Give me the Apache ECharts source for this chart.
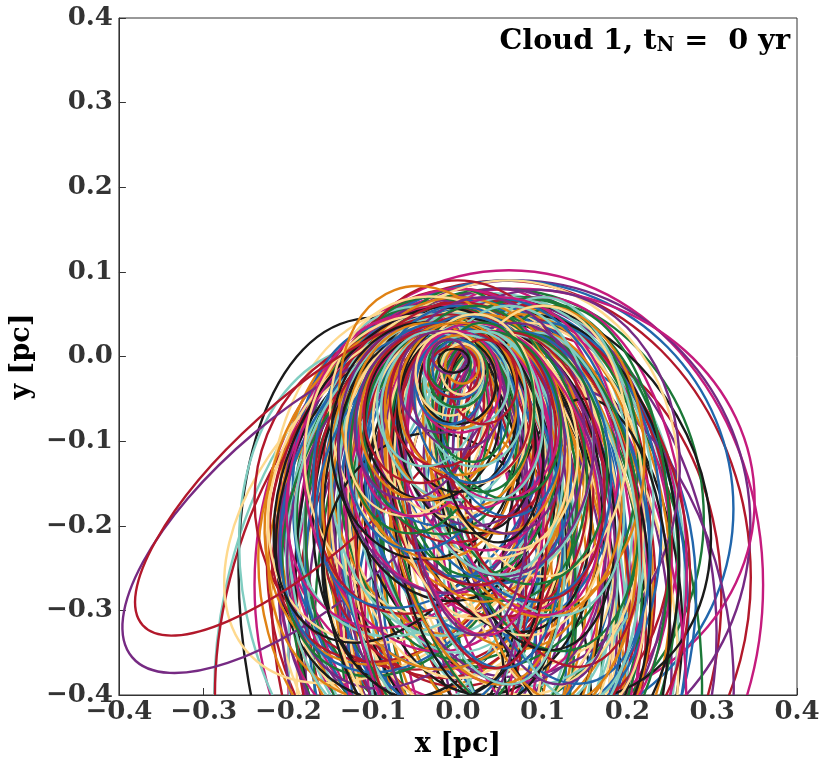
<!DOCTYPE html>
<html>
<head>
<meta charset="utf-8">
<script src="https://cdn.jsdelivr.net/npm/echarts@6/dist/echarts.min.js"></script>
<style>
  html, body { margin: 0; padding: 0; background: #fff; }
  #chart { width: 830px; height: 768px; }
</style>
</head>
<body>
<div id="chart"></div>
<script>
// axis ticks (pc)
const xTicks = [-0.4, -0.3, -0.2, -0.1, 0.0, 0.1, 0.2, 0.3, 0.4];
const yTicks = [-0.4, -0.3, -0.2, -0.1, 0.0, 0.1, 0.2, 0.3, 0.4];

// orbits: [centre x, centre y, half-width, half-height, tilt deg]
const redOrbits = [
  [-0.175, -0.14, 0.265, 0.09, 42],
  [-0.03, -0.30, 0.24, 0.38, -18],
  [0.06, -0.25, 0.285, 0.34, 5],
  [0.0, -0.15, 0.16, 0.24, 0],
  [-0.05, -0.17, 0.19, 0.20, 0],
  [0.05, -0.19, 0.20, 0.26, 10],
  [0.02, -0.12, 0.10, 0.15, 0],
  [-0.02, -0.05, 0.06, 0.08, 0],
  [0.10, -0.22, 0.17, 0.27, 10],
  [0.0, -0.28, 0.22, 0.36, 0],
  [0.03, -0.03, 0.04, 0.05, 0],
  [0.06, -0.30, 0.25, 0.33, -5],
  [-0.005, -0.018, 0.03, 0.03, 0],
  [0.01, -0.06, 0.075, 0.09, 10],
  [-0.01, -0.09, 0.10, 0.13, 5],
  [0.03, -0.13, 0.12, 0.18, 12],
  [-0.02, -0.16, 0.15, 0.22, 0],
  [0.06, -0.205, 0.13, 0.26, 15],
  [0.04, -0.23, 0.19, 0.30, 8],
  [0.02, -0.28, 0.20, 0.36, 5],
  [-0.06, -0.16, 0.15, 0.21, -25],
  [-0.03, -0.12, 0.13, 0.19, -20],
  [0.045, -0.08, 0.07, 0.11, 5],
  [0.08, -0.13, 0.09, 0.16, 10],
  [-0.04, -0.06, 0.07, 0.09, -10],
  [0.11, -0.17, 0.10, 0.20, 12],
  [0.02, -0.17, 0.08, 0.20, 8],
  [-0.02, -0.23, 0.10, 0.26, 3]
];
const purpleOrbits = [
  [-0.17, -0.175, 0.28, 0.11, 40],
  [0.07, -0.20, 0.275, 0.29, 0],
  [0.0, -0.35, 0.18, 0.38, 0],
  [0.03, -0.10, 0.12, 0.17, 0],
  [-0.02, -0.03, 0.05, 0.06, 0],
  [0.05, -0.22, 0.20, 0.30, 0],
  [0.15, -0.33, 0.17, 0.30, 10],
  [0.0, -0.20, 0.14, 0.26, 0],
  [-0.01, 0.0, 0.02, 0.02, 0],
  [0.08, -0.15, 0.18, 0.23, -10],
  [-0.06, -0.30, 0.15, 0.33, 5],
  [0.0, -0.04, 0.055, 0.07, 5],
  [0.02, -0.08, 0.09, 0.12, 0],
  [-0.03, -0.12, 0.11, 0.16, 8],
  [0.04, -0.17, 0.13, 0.22, 12],
  [0.02, -0.25, 0.16, 0.32, 10],
  [0.09, -0.27, 0.21, 0.34, 10],
  [-0.04, -0.22, 0.17, 0.27, -5],
  [0.03, -0.32, 0.22, 0.40, 5],
  [-0.05, -0.18, 0.14, 0.22, -20],
  [0.05, -0.09, 0.075, 0.12, 8],
  [0.06, -0.11, 0.10, 0.15, -5],
  [-0.05, -0.07, 0.07, 0.10, -12],
  [0.09, -0.18, 0.09, 0.21, 10],
  [0.01, -0.15, 0.07, 0.18, 5],
  [-0.01, -0.21, 0.09, 0.24, 0]
];
const tealOrbits = [
  [-0.01, -0.33, 0.27, 0.41, -12],
  [0.08, -0.30, 0.18, 0.37, 0],
  [0.0, -0.15, 0.12, 0.20, 0],
  [0.02, -0.05, 0.06, 0.08, 0],
  [-0.03, -0.22, 0.17, 0.28, 5],
  [0.05, -0.25, 0.15, 0.30, -10],
  [-0.005, -0.02, 0.035, 0.04, 0],
  [0.06, -0.10, 0.10, 0.16, 0],
  [-0.05, -0.28, 0.20, 0.30, 15],
  [0.10, -0.20, 0.12, 0.27, 0],
  [0.0, -0.35, 0.20, 0.40, 0],
  [0.01, -0.03, 0.05, 0.055, 0],
  [-0.01, -0.07, 0.08, 0.10, 8],
  [0.03, -0.11, 0.09, 0.15, 12],
  [-0.02, -0.14, 0.13, 0.19, 0],
  [0.04, -0.19, 0.14, 0.24, 15],
  [0.0, -0.24, 0.18, 0.30, 5],
  [0.07, -0.16, 0.16, 0.23, 5],
  [-0.06, -0.20, 0.14, 0.24, -8],
  [-0.04, -0.14, 0.14, 0.20, -25],
  [0.035, -0.07, 0.065, 0.10, 5],
  [0.09, -0.14, 0.10, 0.17, 15],
  [-0.035, -0.05, 0.06, 0.08, -8],
  [0.12, -0.19, 0.09, 0.22, 8],
  [0.03, -0.18, 0.09, 0.21, 10],
  [-0.03, -0.20, 0.11, 0.24, 5]
];
const yellowOrbits = [
  [0.0, -0.10, 0.14, 0.18, 30],
  [-0.06, -0.17, 0.26, 0.16, 45],
  [0.06, -0.14, 0.20, 0.23, 0],
  [0.0, -0.38, 0.19, 0.44, 0],
  [0.02, -0.05, 0.07, 0.10, 0],
  [0.0, -0.16, 0.13, 0.22, 0],
  [0.04, -0.24, 0.17, 0.30, -5],
  [-0.01, -0.02, 0.04, 0.05, 0],
  [0.08, -0.18, 0.14, 0.22, 0],
  [-0.04, -0.20, 0.12, 0.25, 0],
  [0.0, -0.30, 0.135, 0.38, 0],
  [0.10, -0.10, 0.10, 0.16, 0],
  [0.005, -0.015, 0.025, 0.03, 0],
  [-0.01, -0.08, 0.09, 0.11, 5],
  [0.03, -0.10, 0.11, 0.14, 12],
  [-0.03, -0.13, 0.15, 0.18, 10],
  [0.05, -0.20, 0.12, 0.26, 15],
  [0.02, -0.19, 0.17, 0.24, 5],
  [-0.02, -0.26, 0.20, 0.32, 10],
  [0.07, -0.28, 0.18, 0.34, 12],
  [-0.06, -0.15, 0.15, 0.20, -30],
  [-0.02, -0.18, 0.17, 0.25, -20],
  [0.05, -0.10, 0.08, 0.13, 10],
  [0.07, -0.15, 0.11, 0.18, 5],
  [-0.05, -0.08, 0.08, 0.11, -15],
  [0.10, -0.20, 0.11, 0.23, 15],
  [0.015, -0.14, 0.09, 0.17, 3],
  [-0.015, -0.24, 0.11, 0.28, 8]
];
const blackOrbits = [
  [0.085, -0.17, 0.20, 0.25, 30],
  [0.0, -0.30, 0.19, 0.34, 5],
  [-0.005, -0.005, 0.018, 0.014, 0],
  [0.0, -0.06, 0.07, 0.10, 0],
  [-0.02, -0.13, 0.12, 0.16, 10],
  [-0.03, -0.25, 0.13, 0.16, 0],
  [0.05, -0.25, 0.17, 0.30, 0],
  [0.15, -0.30, 0.10, 0.25, 0],
  [-0.05, -0.35, 0.20, 0.40, 10],
  [0.03, -0.18, 0.14, 0.22, 0],
  [0.0, -0.03, 0.045, 0.05, 0],
  [0.01, -0.09, 0.08, 0.12, 10],
  [-0.04, -0.10, 0.11, 0.14, 0],
  [0.04, -0.14, 0.11, 0.19, 15],
  [0.02, -0.21, 0.15, 0.27, 8],
  [0.06, -0.27, 0.20, 0.32, 10],
  [-0.02, -0.18, 0.15, 0.23, -5],
  [0.10, -0.22, 0.16, 0.27, 5],
  [-0.07, -0.14, 0.13, 0.21, -25],
  [-0.05, -0.19, 0.16, 0.22, -15],
  [0.04, -0.10, 0.06, 0.12, 5],
  [0.08, -0.16, 0.10, 0.19, 12],
  [-0.03, -0.07, 0.08, 0.10, -5],
  [0.12, -0.21, 0.10, 0.24, 10],
  [0.025, -0.19, 0.10, 0.22, 6],
  [-0.04, -0.21, 0.12, 0.25, 0]
];
const greenOrbits = [
  [0.05, -0.19, 0.24, 0.27, 0],
  [0.0, -0.28, 0.14, 0.36, 0],
  [0.02, -0.10, 0.10, 0.16, 0],
  [-0.01, -0.01, 0.025, 0.03, 0],
  [0.03, -0.06, 0.06, 0.10, 0],
  [0.08, -0.25, 0.18, 0.32, 0],
  [-0.03, -0.20, 0.15, 0.27, 0],
  [0.06, -0.15, 0.15, 0.22, -10],
  [0.0, -0.35, 0.17, 0.42, 0],
  [0.12, -0.22, 0.13, 0.28, 0],
  [0.02, -0.25, 0.20, 0.30, 5],
  [0.0, -0.02, 0.035, 0.04, 0],
  [0.01, -0.05, 0.05, 0.075, 10],
  [-0.02, -0.09, 0.09, 0.12, 0],
  [0.04, -0.12, 0.11, 0.17, 10],
  [0.0, -0.15, 0.14, 0.21, 5],
  [0.06, -0.21, 0.15, 0.27, 12],
  [-0.04, -0.24, 0.16, 0.30, 0],
  [0.10, -0.30, 0.18, 0.36, 10],
  [0.03, -0.18, 0.19, 0.25, -5],
  [-0.05, -0.17, 0.14, 0.22, -25],
  [0.05, -0.07, 0.07, 0.10, 12],
  [0.075, -0.12, 0.10, 0.15, 8],
  [-0.045, -0.09, 0.08, 0.12, -10],
  [0.10, -0.16, 0.11, 0.19, 10],
  [0.03, -0.20, 0.10, 0.23, 12],
  [-0.01, -0.20, 0.12, 0.24, -3]
];
const orangeOrbits = [
  [-0.01, -0.10, 0.12, 0.19, 20],
  [0.0, -0.20, 0.21, 0.26, 0],
  [0.05, -0.27, 0.18, 0.30, 0],
  [0.0, -0.05, 0.07, 0.09, 0],
  [0.03, -0.12, 0.10, 0.17, 0],
  [-0.02, -0.17, 0.14, 0.20, 0],
  [0.07, -0.20, 0.15, 0.25, 0],
  [0.0, -0.03, 0.045, 0.055, 0],
  [-0.05, -0.28, 0.18, 0.25, 15],
  [0.04, -0.30, 0.16, 0.35, 0],
  [0.10, -0.12, 0.12, 0.18, 0],
  [0.005, -0.01, 0.02, 0.022, 0],
  [0.0, -0.07, 0.085, 0.11, 10],
  [-0.03, -0.10, 0.10, 0.14, 5],
  [0.04, -0.15, 0.12, 0.20, 15],
  [0.0, -0.13, 0.15, 0.20, 0],
  [0.02, -0.22, 0.14, 0.27, 10],
  [0.08, -0.24, 0.17, 0.30, 5],
  [-0.03, -0.23, 0.18, 0.28, 8],
  [0.05, -0.32, 0.14, 0.38, 8],
  [-0.07, -0.16, 0.15, 0.21, -20],
  [-0.04, -0.20, 0.17, 0.22, -30],
  [0.04, -0.09, 0.08, 0.12, 8],
  [0.08, -0.14, 0.11, 0.17, 12],
  [-0.035, -0.07, 0.08, 0.10, -8],
  [0.11, -0.19, 0.10, 0.22, 5],
  [0.02, -0.18, 0.10, 0.21, 10],
  [-0.02, -0.25, 0.13, 0.28, 5]
];
const magentaOrbits = [
  [0.06, -0.27, 0.30, 0.372, 0],
  [0.07, -0.17, 0.28, 0.25, 0],
  [0.05, -0.30, 0.16, 0.38, 0],
  [0.0, -0.20, 0.18, 0.28, 0],
  [-0.01, -0.01, 0.03, 0.03, 0],
  [0.02, -0.07, 0.08, 0.11, 0],
  [-0.04, -0.15, 0.14, 0.20, 10],
  [0.05, -0.12, 0.14, 0.19, 0],
  [0.0, -0.38, 0.20, 0.45, 0],
  [0.10, -0.25, 0.17, 0.32, 0],
  [-0.02, -0.27, 0.12, 0.30, 0],
  [0.03, -0.22, 0.23, 0.27, -5],
  [0.0, -0.03, 0.05, 0.06, 5],
  [0.02, -0.10, 0.09, 0.13, 10],
  [-0.01, -0.12, 0.12, 0.16, 0],
  [0.03, -0.17, 0.14, 0.22, 12],
  [-0.04, -0.20, 0.16, 0.25, 5],
  [0.06, -0.21, 0.19, 0.28, 8],
  [0.01, -0.31, 0.20, 0.38, 5],
  [0.12, -0.30, 0.14, 0.33, 10],
  [-0.05, -0.13, 0.14, 0.20, -25],
  [-0.02, -0.20, 0.18, 0.26, -20],
  [0.045, -0.07, 0.075, 0.10, 5],
  [0.07, -0.14, 0.09, 0.17, 15],
  [-0.04, -0.08, 0.075, 0.11, -12],
  [0.10, -0.21, 0.12, 0.24, 8],
  [0.02, -0.15, 0.08, 0.18, 5],
  [-0.03, -0.23, 0.10, 0.26, 5]
];
const blueOrbits = [
  [0.06, -0.18, 0.265, 0.27, 0],
  [0.0, -0.10, 0.11, 0.16, 0],
  [0.02, -0.20, 0.17, 0.26, 0],
  [-0.01, -0.03, 0.04, 0.05, 0],
  [0.05, -0.25, 0.15, 0.30, 0],
  [-0.05, -0.22, 0.14, 0.26, 10],
  [0.08, -0.30, 0.20, 0.30, -5],
  [0.04, -0.13, 0.15, 0.20, 0],
  [0.0, -0.30, 0.13, 0.35, 0],
  [0.10, -0.20, 0.14, 0.24, 0],
  [0.0, -0.015, 0.03, 0.035, 0],
  [0.01, -0.06, 0.06, 0.09, 10],
  [-0.02, -0.08, 0.10, 0.12, 0],
  [0.03, -0.11, 0.10, 0.16, 12],
  [-0.03, -0.16, 0.14, 0.21, 5],
  [0.06, -0.18, 0.16, 0.25, 15],
  [0.02, -0.24, 0.18, 0.30, 8],
  [0.09, -0.27, 0.18, 0.33, 5],
  [-0.02, -0.27, 0.16, 0.33, 0],
  [-0.06, -0.17, 0.14, 0.21, -20],
  [-0.03, -0.13, 0.12, 0.18, -30],
  [0.05, -0.08, 0.07, 0.11, 10],
  [0.08, -0.13, 0.10, 0.16, 5],
  [-0.04, -0.10, 0.09, 0.13, -8],
  [0.11, -0.18, 0.11, 0.21, 12],
  [0.03, -0.17, 0.09, 0.20, 8],
  [-0.02, -0.19, 0.12, 0.23, 0]
];

const groups = [
  { data: purpleOrbits, color: '#762a83' },
  { data: tealOrbits, color: '#80cdc1' },
  { data: blackOrbits, color: '#1a1a1a' },
  { data: greenOrbits, color: '#1b7837' },
  { data: redOrbits, color: '#b2182b' },
  { data: orangeOrbits, color: '#e08214' },
  { data: blueOrbits, color: '#2166ac' },
  { data: yellowOrbits, color: '#fed98e' },
  { data: magentaOrbits, color: '#c51b7d' }
];

// interleave the colour groups, then draw big orbits first so the small
// inner loops stay visible on top
const orbitRows = [];
const maxLen = Math.max(...groups.map(g => g.data.length));
for (let i = 0; i < maxLen; i++) {
  groups.forEach((g, gi) => {
    if (g.data[i]) orbitRows.push([...g.data[i], gi]);
  });
}
orbitRows.sort((a, b) => b[2] * b[3] - a[2] * a[3]);

const serifBold = { fontFamily: 'DejaVu Serif', fontWeight: 'bold' };
const fmt = v => {
  const s = (Math.round(v * 10) / 10).toFixed(1);
  return s === '-0.0' ? '0.0' : s.replace('-', '\u2212');
};

const chart = echarts.init(document.getElementById('chart'), null, { renderer: 'canvas' });
chart.setOption({
  animation: false,
  backgroundColor: '#fff',
  grid: { left: 116, right: 33, top: 18, bottom: 73, show: true, borderColor: '#333', borderWidth: 1 },
  title: {
    text: '{a|Cloud 1, t}{s|N}{a| =  0 yr}',
    right: 35, top: 17,
    textStyle: {
      rich: {
        a: { ...serifBold, fontSize: 28.7, color: '#000', verticalAlign: 'bottom', lineHeight: 34 },
        s: { ...serifBold, fontSize: 19.5, color: '#000', verticalAlign: 'bottom', lineHeight: 34, padding: [10, 0, 0, 0] }
      }
    }
  },
  xAxis: {
    type: 'value', min: -0.4, max: 0.4, interval: 0.1,
    name: 'x [pc]', nameLocation: 'middle', nameGap: 36,
    nameTextStyle: { ...serifBold, fontSize: 27, color: '#000' },
    axisLine: { show: true, onZero: false, lineStyle: { color: '#333', width: 1 } },
    axisTick: { show: true, inside: true, length: 7, lineStyle: { color: '#333' } },
    axisLabel: { ...serifBold, fontSize: 26, color: '#333', margin: 4, formatter: fmt },
    splitLine: { show: false }
  },
  yAxis: {
    type: 'value', min: -0.4, max: 0.4, interval: 0.1,
    name: 'y [pc]', nameLocation: 'middle', nameGap: 70, nameRotate: 90,
    nameTextStyle: { ...serifBold, fontSize: 27, color: '#000' },
    axisLine: { show: true, onZero: false, lineStyle: { color: '#333', width: 1 } },
    axisTick: { show: true, inside: true, length: 7, lineStyle: { color: '#333' } },
    axisLabel: { ...serifBold, fontSize: 26, color: '#333', margin: 6, formatter: fmt },
    splitLine: { show: false }
  },
  series: [{
    type: 'custom',
    clip: true,
    data: orbitRows,
    renderItem(params, api) {
      const c = api.coord([api.value(0), api.value(1)]);
      const sz = api.size([api.value(2), api.value(3)]);
      return {
        type: 'ellipse',
        x: c[0], y: c[1],
        rotation: api.value(4) * Math.PI / 180,
        shape: { cx: 0, cy: 0, rx: sz[0], ry: sz[1] },
        style: { fill: 'none', stroke: groups[api.value(5)].color, lineWidth: 2.4 }
      };
    }
  }]
});
</script>
</body>
</html>
